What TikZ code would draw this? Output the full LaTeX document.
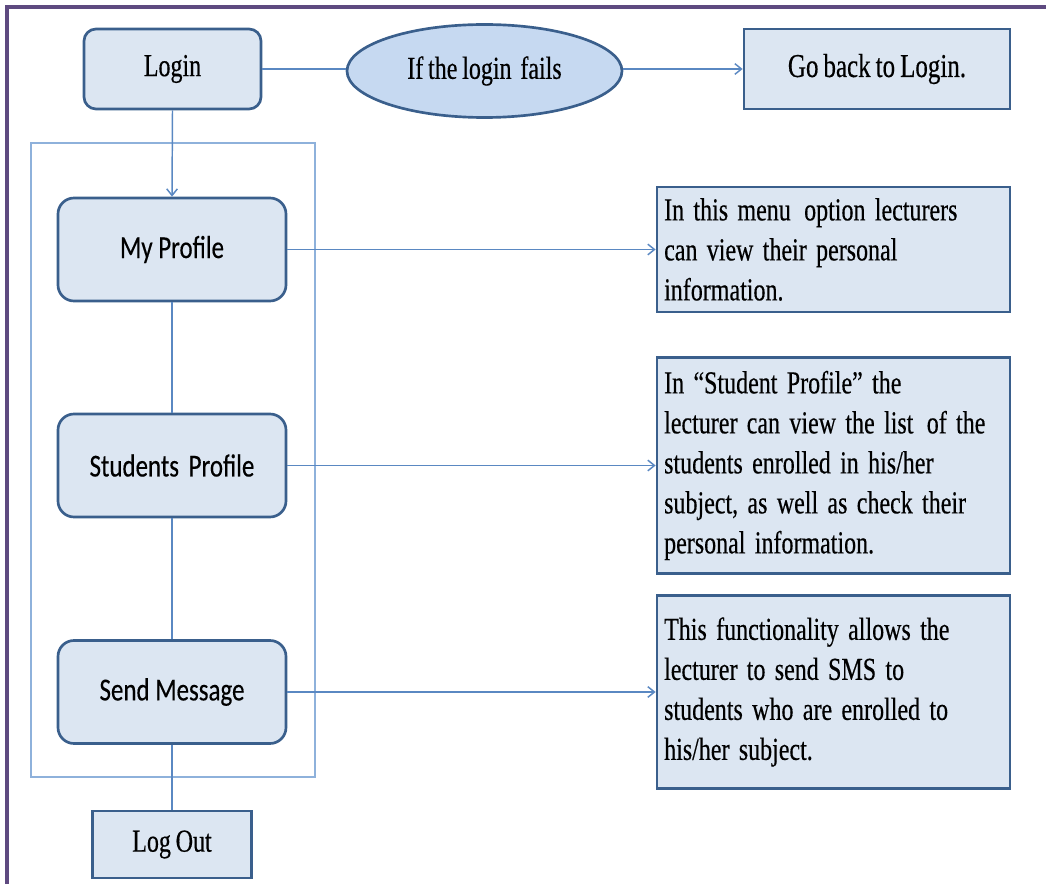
\documentclass[tikz,border=0pt]{standalone}
\usepackage{fontspec}
\setmainfont{Liberation Serif}[FakeStretch=0.75, WordSpace=0.8, FakeBold=0.4]
\newfontfamily\calfont{Carlito}[FakeStretch=0.78, FakeBold=0.3]
\usetikzlibrary{shapes.geometric,arrows.meta}
\newcommand\widespaces{\spaceskip=7pt plus 0.5pt minus 0.5pt\relax}
\definecolor{boxfill}{HTML}{DCE6F2}
\definecolor{ellfill}{HTML}{C6D9F1}
\definecolor{boxline}{HTML}{3A5F8C}
\definecolor{conline}{HTML}{5A88C2}
\definecolor{contline}{HTML}{8EB1DB}
\definecolor{framecol}{HTML}{5E4A80}
\tikzset{
  base/.style={draw=boxline, fill=boxfill, line width=2pt, inner sep=0pt,
    font=\fontsize{24}{30}\selectfont},
  roundbox/.style={base, rounded corners=12pt, minimum width=171pt, minimum height=77.25pt,
    font=\calfont\fontsize{24}{30}\selectfont},
  plainbox/.style={base},
  descbox/.style={base, minimum width=264.75pt, text width=254pt, align=flush left, inner xsep=5.4pt,
    execute at begin node=\widespaces},
  conn/.style={draw=conline, line width=1.1pt},
  arr/.style={conn, -{Straight Barb[length=5pt,width=8pt,line width=1.1pt]}},
}
\begin{document}
\begin{tikzpicture}[x=0.75pt,y=-0.75pt]
\useasboundingbox (0,0) rectangle (1046,884);
% outer frame
\draw[framecol, line width=2.6pt] (7,890) -- (7,7) -- (1052,7);
% container
\draw[contline, line width=1.1pt] (31,143) rectangle (315,777);
% nodes
\node[base, rounded corners=9pt, minimum width=132.75pt, minimum height=60pt] (login) at (172.5,69) {Login};
\node[base, ellipse, fill=ellfill, minimum width=206.25pt, minimum height=69.75pt] (ell) at (484.5,71) {If the login \hspace{3pt}fails};
\node[plainbox, minimum width=199.5pt, minimum height=60pt, font=\fontsize{25}{30}\selectfont] (goback) at (877,69) {Go back to Login.};
\node[roundbox] (myprof) at (172,249.5) {My Profile};
\node[roundbox] (stud) at (172,465.5) {Students \hspace{3pt}Profile};
\node[roundbox] (send) at (172,692) {Send Message};
\node[plainbox, minimum width=119.25pt, minimum height=50.25pt] (logout) at (172,844.5) {Log Out};
\node[descbox, minimum height=93.75pt] (d1) at (833.5,249.5)
  {In this menu \hspace{3pt}option lecturers\\can view their personal\\information.};
\node[descbox, minimum height=162pt] (d2) at (833.5,465.5)
  {In “Student Profile” the\\lecturer can view the list \hspace{3pt}of the\\students enrolled in his/her\\subject, as well as check their\\personal information.};
\node[descbox, minimum height=144.75pt] (d3) at (833.5,692)
  {This functionality allows the\\lecturer to send SMS to\\students who are enrolled to\\his/her subject.};
% connectors
\draw[conn] (login.east) -- (login.east -| ell.west);
\draw[arr] (ell.east |- goback.west) -- (goback.west);
\draw[arr] (login.south) -- (myprof.north);
\draw[conn] (myprof.south) -- (stud.north);
\draw[conn] (stud.south) -- (send.north);
\draw[conn] (send.south) -- (logout.north);
\draw[arr] (myprof.east) -- (d1.west);
\draw[arr] (stud.east) -- (d2.west);
\draw[arr] (send.east) -- (d3.west);
\end{tikzpicture}
\end{document}
